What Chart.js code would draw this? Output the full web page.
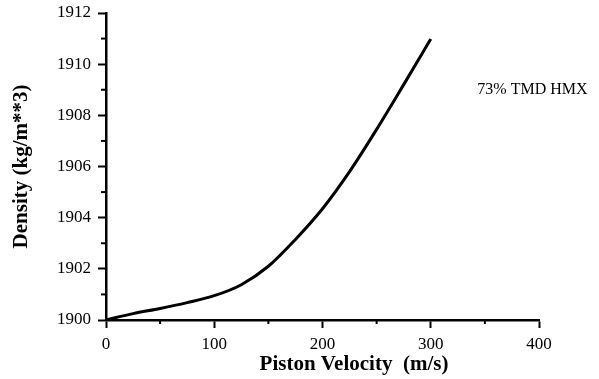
<!DOCTYPE html>
<html>
	<head>
		<meta charset="UTF-8">
		<title>Piston Velocity vs Density</title>
		<script type="text/javascript" src="https://cdn.jsdelivr.net/npm/chart.js@4.4.1/dist/chart.umd.min.js"></script>
		<style type="text/css">
			body{
				margin: 0;
				background: #fff;
			}
			#area-grafico{
				width: 599px;
				height: 379px;
			}
		</style>
	</head>
	<body>
		<div id="area-grafico"><canvas id="grafico" width="599" height="379"></canvas></div>
		<script type="text/javascript">

			// values
			var velocidade = [0, 25, 50, 75, 100, 125, 150, 175, 200, 225, 250, 275, 300];
			var densidade = [1900.0, 1900.25, 1900.45, 1900.68, 1900.95, 1901.38, 1902.1, 1903.15, 1904.35, 1905.8, 1907.45, 1909.2, 1910.98];
			var rotuloSerie = "73% TMD HMX";
			var tituloX = "Piston Velocity  (m/s)";
			var tituloY = "Density (kg/m**3)";

			var fonte = "'Liberation Serif', 'Times New Roman', serif";

			var pontos = velocidade.map(function(v, i){ return {x: v, y: densidade[i]}; });

			// minor ticks + curve label
			var extras = {
				id: 'extras',
				afterDraw: function(chart){
					var ctx = chart.ctx;
					var xs = chart.scales.x, ys = chart.scales.y;
					ctx.save();
					ctx.strokeStyle = '#000';
					ctx.lineWidth = 2;
					xs.ticks.forEach(function(t){
						if (t.value % 100 !== 0) {
							var px = xs.getPixelForValue(t.value);
							ctx.beginPath();
							ctx.moveTo(px, xs.top);
							ctx.lineTo(px, xs.top + 4);
							ctx.stroke();
						}
					});
					ys.ticks.forEach(function(t){
						if (t.value % 2 !== 0) {
							var py = ys.getPixelForValue(t.value);
							ctx.beginPath();
							ctx.moveTo(ys.right, py);
							ctx.lineTo(ys.right - 5, py);
							ctx.stroke();
						}
					});
					ctx.fillStyle = '#000';
					ctx.font = "16px " + fonte;
					ctx.textAlign = 'left';
					ctx.textBaseline = 'middle';
					ctx.fillText(rotuloSerie, xs.getPixelForValue(343), ys.getPixelForValue(1909));
					ctx.restore();
				}
			};

			var grafico = new Chart(document.getElementById("grafico"), {
				type: 'line',
				data: {
					datasets: [
						{
							label: rotuloSerie,
							data: pontos,
							borderColor: '#000',
							borderWidth: 3,
							pointRadius: 0,
							tension: 0.3,
							cubicInterpolationMode: 'monotone',
							fill: false
						}
					]
				},
				options: {
					responsive: false,
					animation: false,
					layout: {
						padding: {top: 13, right: 60, left: 0, bottom: 0}
					},
					plugins: {
						legend: {display: false},
						tooltip: {enabled: false}
					},
					scales: {
						x: {
							type: 'linear',
							min: 0,
							max: 400,
							afterFit: function(s){ s.height = 59; s.paddingLeft = 0; s.paddingRight = 0; },
							border: {display: true, color: '#000', width: 2.5},
							grid: {
								drawOnChartArea: false,
								drawTicks: true,
								tickLength: 8,
								tickWidth: 2,
								tickColor: function(c){ return c.tick && c.tick.value % 100 === 0 ? '#000' : 'rgba(0,0,0,0)'; }
							},
							ticks: {
								stepSize: 50,
								autoSkip: false,
								maxRotation: 0,
								padding: 6,
								color: '#000',
								font: {family: fonte, size: 17},
								callback: function(v){ return v % 100 === 0 ? v : ''; }
							},
							title: {
								display: true,
								text: "            " + tituloX,
								color: '#000',
								font: {family: fonte, size: 21, weight: 'bold'},
								padding: {top: 0, bottom: 2}
							}
						},
						y: {
							min: 1900,
							max: 1912,
							afterFit: function(s){ s.width = 106; s.paddingTop = 0; s.paddingBottom = 0; },
							border: {display: true, color: '#000', width: 2.5},
							grid: {
								drawOnChartArea: false,
								drawTicks: true,
								tickLength: 8,
								tickWidth: 2,
								tickColor: function(c){ return c.tick && c.tick.value % 2 === 0 ? '#000' : 'rgba(0,0,0,0)'; }
							},
							ticks: {
								stepSize: 1,
								autoSkip: false,
								padding: 7,
								color: '#000',
								font: {family: fonte, size: 17},
								callback: function(v){ return v % 2 === 0 ? v : ''; }
							},
							title: {
								display: true,
								text: tituloY,
								color: '#000',
								font: {family: fonte, size: 21, weight: 'bold'},
								padding: {top: 9, bottom: 0}
							}
						}
					}
				},
				plugins: [extras]
			});

		</script>
	</body>
</html>
